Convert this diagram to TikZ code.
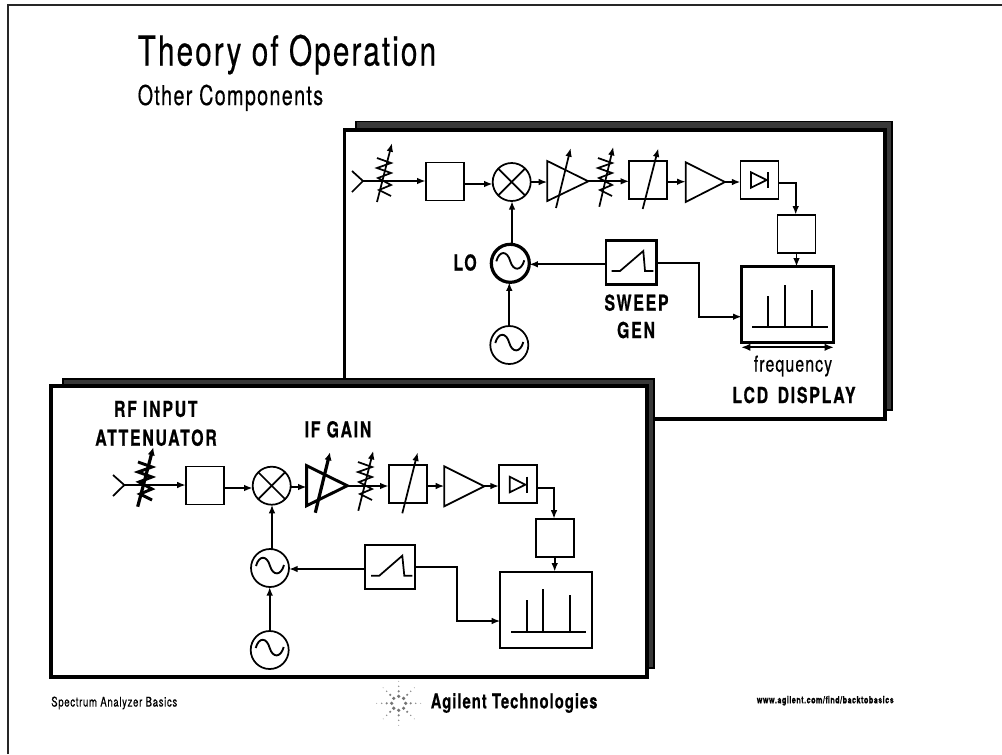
\documentclass[tikz,border=0pt]{standalone}
\usepackage{fontspec}
\setmainfont{TeX Gyre Heros}
\newfontfamily\cnreg[FakeStretch=0.72,LetterSpace=5,FakeBold=0.4]{TeX Gyre Heros}
\newfontfamily\cnbold[UprightFont={* Bold},FakeStretch=0.72,LetterSpace=8,FakeBold=0.6]{TeX Gyre Heros}
\newfontfamily\cnboldb[UprightFont={* Bold},FakeStretch=0.72,LetterSpace=5,FakeBold=0.5]{TeX Gyre Heros}
\usetikzlibrary{arrows.meta}
\tikzset{
  wire/.style={line width=1.3pt,-{Latex[length=6.5pt,width=5pt]}},
  boxn/.style={draw,line width=1.3pt,minimum width=28.5pt,minimum height=28.5pt,inner sep=0,outer sep=0,fill=white},
  boxt/.style={boxn,line width=2pt},
  circn/.style={draw,circle,line width=1.3pt,minimum size=28.5pt,inner sep=0,outer sep=0,fill=white},
  circt/.style={circn,line width=2.4pt},
  frame/.style={draw,line width=2.4pt,fill=white},
  shadow/.style={draw=black,fill=black!78,line width=1pt},
  sym/.style={line width=1.3pt},
  vararrow/.style={line width=1.3pt,-{Latex[length=6.5pt,width=5pt]}},
  thickarrow/.style={line width=2.4pt,-{Latex[length=6pt,width=5.5pt]}},
  lab/.style={font=\cnbold\fontsize{16.5}{16.5}\selectfont,inner sep=0,align=center},
}
% zigzag attenuator symbol at (#1,#2) with style #3
\newcommand{\attz}[3]{\draw[#3] (#1-7,#2-23) -- (#1+7,#2-18) -- (#1-7,#2-13) -- (#1+7,#2-8) -- (#1-6,#2-3) -- (#1+7,#2+4) -- (#1-5,#2+9) -- (#1+7,#2+15);}
% sine inside circle centred at node
\newcommand{\sinew}[3][1.4pt]{\draw[line width=#1] (#2-14,#3-2) .. controls (#2-11,#3-13) and (#2-3,#3-13) .. (#2,#3-2) .. controls (#2+3,#3+8) and (#2+11,#3+8) .. (#2+14,#3-3);}
\begin{document}
\begin{tikzpicture}[x=0.75pt,y=-0.75pt,line join=miter]
\useasboundingbox (0,0) rectangle (1002,754);
\fill[white] (0,0) rectangle (1002,754);
\draw[line width=1pt,black!85] (8,754) -- (8,5) -- (1002,5);
% ---------- title
\node[anchor=base west,inner sep=0,font=\cnreg\fontsize{31}{31}\selectfont] (title) at (137.5,65.5) {Theory of Operation};
\node[anchor=base west,inner sep=0,font=\cnreg\fontsize{20.5}{21}\selectfont] (subtitle) at (137.5,105) {Other Components};

% ---------- upper frame
\draw[shadow] (356,121.5) rectangle (892,410);
\draw[frame] (344.5,130) rectangle (885,419);
% chain
\coordinate (ua) at (363,181);
\draw[sym] (352,171) -- (ua) -- (352,192);
\node[boxn] (ub1) at (444.7,181.5) {};
\node[circn] (umx) at (511.7,182) {};
\draw[sym] (umx.45) -- (umx.225) (umx.135) -- (umx.315);
\coordinate (uam1) at (547.3,181);
\draw[sym] (547.3,161) -- (588.3,181.3) -- (547.3,201) -- cycle;
\coordinate (uam1o) at (588.3,181.3);
\node[boxn] (ub2) at (648.3,180) {};
\coordinate (uam2) at (685.7,182);
\draw[sym] (685.7,162.3) -- (725,182) -- (685.7,202) -- cycle;
\coordinate (uam2o) at (725,182);
\node[boxn] (ub3) at (759.5,180) {};
\draw[sym] (751,172.3) -- (766.7,180) -- (751,187.7) -- cycle;
\draw[line width=1.6pt] (767.7,172) -- (767.7,188);
\node[boxn] (ub4) at (796.5,233.7) {};
\node[boxt,minimum width=69pt,minimum height=56.7pt] (udisp) at (787.7,304.5) {};
\draw[sym] (752.3,327.3) -- (828.3,327.3) (768.3,327.3) -- (768.3,295.7) (785,327.3) -- (785,285) (811.7,327.3) -- (811.7,290);
\node[boxt,minimum width=38pt,minimum height=33pt] (usw) at (631.2,262.2) {};
\draw[sym] (611.7,271) -- (620,271) -- (643.3,251) -- (645,271) -- (653.3,271);
\node[circt] (ulo) at (510.3,263.3) {};
\sinew{510.3}{263.3}
\node[circn] (uref) at (509.3,345) {};
\sinew{509.3}{345}
% wires
\draw[wire] (ua) -- (ub1.west |- ua);
\draw[wire] (ub1.east |- 0,184) -- (umx.west |- 0,184);
\draw[wire] (umx.east |- 0,182) -- (uam1 |- 0,182);
\draw[wire] (uam1o) -- (ub2.west |- uam1o);
\draw[wire] (ub2.east |- 0,181.7) -- (uam2 |- 0,181.7);
\draw[wire] (uam2o) -- (ub3.west |- uam2o);
\draw[wire] (ub3.east |- 0,183.3) -| (ub4.north -| 795.7,0);
\draw[wire] (ub4.south) -- (udisp.north -| ub4.south);
\draw[wire] (usw.west |- 0,264.3) -- (ulo.east |- 0,264.3);
\draw[wire] (ulo.north -| 512,0) -- (umx.south -| 512,0);
\draw[wire] (uref.north) -- (ulo.south -| uref.north);
\draw[wire] (usw.east |- 0,262.7) -| (698.7,290) |- (udisp.west |- 0,316.7);
% variable symbols
\attz{384}{181}{sym}
\draw[vararrow] (377,202) -- (392,143);
\draw[vararrow] (556,208) -- (570.7,148);
\attz{605}{181}{sym}
\draw[vararrow] (599.3,206.7) -- (613.3,146.7);
\draw[vararrow] (642.7,209) -- (658.3,148.3);
\draw[line width=1.4pt,{Latex[length=7pt,width=5.5pt]}-{Latex[length=7pt,width=5.5pt]}] (741,347.3) -- (834,347.3);
% labels
\node[lab] (ulol) at (465,262.5) {LO};
\node[lab] (uswl) at (636.5,302.7) {SWEEP};
\node[lab] (ugen) at (636,330) {GEN};
\node[inner sep=0,font=\cnreg\fontsize{16.5}{17}\selectfont] (ufreq) at (793,366) {frequency};
\node[lab] (ulcd) at (794,395) {LCD\hspace{0.15em} DISPLAY};

% ---------- lower frame
\draw[shadow] (63,379) rectangle (654,668);
\draw[frame] (51,386) rectangle (647,677);
\coordinate (la) at (124.3,485);
\draw[sym] (113,475) -- (la) -- (113,496);
\node[boxn] (lb1) at (204.8,485.5) {};
\node[circn] (lmx) at (271.7,485.7) {};
\draw[sym] (lmx.45) -- (lmx.225) (lmx.135) -- (lmx.315);
\coordinate (lam1) at (306.7,487);
\draw[line width=2.2pt] (306.7,465.7) -- (347.3,485.7) -- (306.7,505.7) -- cycle;
\coordinate (lam1o) at (347.3,486);
\node[boxn] (lb2) at (407.7,484) {};
\coordinate (lam2) at (444.3,486);
\draw[sym] (444.3,466.3) -- (484.3,486.3) -- (444.3,506.3) -- cycle;
\coordinate (lam2o) at (484.3,486);
\node[boxn] (lb3) at (518,484) {};
\draw[sym] (509.7,476.7) -- (525.3,484.7) -- (509.7,492.3) -- cycle;
\draw[line width=1.6pt] (526.7,476.5) -- (526.7,492.5);
\node[boxn] (lb4) at (554.7,537.8) {};
\node[boxn,minimum width=68.8pt,minimum height=57.5pt] (ldisp) at (546.2,610) {};
\draw[sym] (511,632.3) -- (586,632.3) (526.7,632.3) -- (526.7,600.3) (543.3,632.3) -- (543.3,589.3) (570,632.3) -- (570,595);
\node[boxn,minimum width=37.7pt,minimum height=33.2pt] (lsw) at (390.2,566.8) {};
\draw[sym] (371,575.7) -- (379.3,575.7) -- (402.3,555.7) -- (404.3,575.7) -- (412.3,575.7);
\node[circn] (llo) at (270,568) {};
\sinew{270}{568}
\node[circn] (lref) at (269.7,650) {};
\sinew{269.7}{650}
% wires
\draw[wire] (la) -- (lb1.west |- la);
\draw[wire] (lb1.east |- 0,488) -- (lmx.west |- 0,488);
\draw[wire] (lmx.east |- lam1) -- (lam1);
\draw[wire] (lam1o) -- (lb2.west |- lam1o);
\draw[wire] (lb2.east |- lam2) -- (lam2);
\draw[wire] (lam2o) -- (lb3.west |- lam2o);
\draw[wire] (lb3.east |- 0,488) -| (lb4.north -| 554,0);
\draw[wire] (lb4.south) -- (ldisp.north -| lb4.south);
\draw[wire] (lsw.west |- 0,569) -- (llo.east |- 0,569);
\draw[wire] (llo.north -| 272,0) -- (lmx.south -| 272,0);
\draw[wire] (lref.north) -- (llo.south -| lref.north);
\draw[wire] (lsw.east |- 0,567.3) -| (457.3,590) |- (ldisp.west |- 0,621);
% variable symbols
\attz{145}{485}{line width=2.2pt}
\draw[thickarrow] (137.7,506.7) -- (153.3,447.3);
\draw[thickarrow] (315.3,512.7) -- (330,452.3);
\attz{365}{485}{sym}
\draw[vararrow] (358.3,510.7) -- (373.3,450.7);
\draw[vararrow] (402.3,513.3) -- (417.7,452.3);
% labels
\node[lab] (lrf) at (155.8,409) {RF INPUT};
\node[lab] (lat) at (156,437.7) {ATTENUATOR};
\node[lab] (lif) at (338,429.3) {IF GAIN};

% ---------- footer
\node[anchor=west,inner sep=0,font=\cnreg\fontsize{10}{10}\selectfont] (fl) at (51,703) {Spectrum Analyzer Basics};
\node[anchor=west,inner sep=0,font=\cnboldb\fontsize{15.4}{15.4}\selectfont] (fc) at (430.5,703) {Agilent Technologies};
\node[anchor=east,inner sep=0,font=\cnboldb\fontsize{7.5}{8}\selectfont] (fr) at (894,700.7) {www.agilent.com/find/backtobasics};
\foreach \a in {0,45,...,315}{
  \fill[black!55] (398.7,703.3) ++(\a:7) circle (1.8);
  \fill[black!50] (398.7,703.3) ++(\a:12) circle (1.2);
  \fill[black!45] (398.7,703.3) ++(\a:17) circle (0.8);
  \fill[black!40] (398.7,703.3) ++(\a:22) circle (0.5);
}
\end{tikzpicture}
\end{document}
